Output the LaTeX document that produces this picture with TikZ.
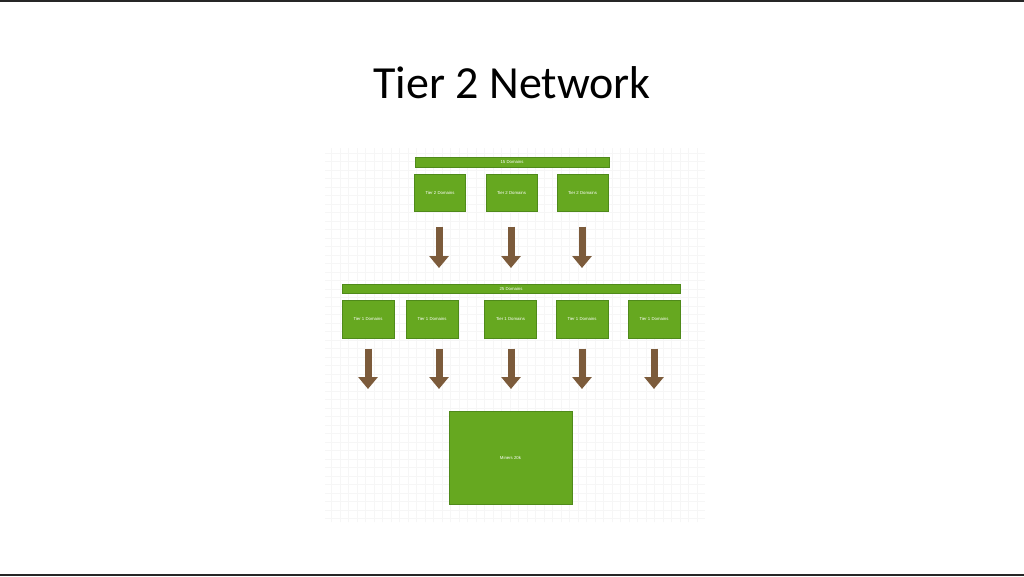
\documentclass[tikz,border=0pt]{standalone}
\usepackage{fontspec}
\setmainfont{Carlito}
\newfontfamily\boxfont{Liberation Sans}
\usetikzlibrary{arrows.meta}
\definecolor{boxgreen}{HTML}{66A820}
\definecolor{boxedge}{HTML}{4F8A1A}
\definecolor{arrowbrown}{HTML}{7C5B3B}
\definecolor{gridgray}{HTML}{F6F6F6}
\tikzset{
  gbox/.style={draw=boxedge, line width=1pt, fill=boxgreen, inner sep=0pt, text=white,
    font=\boxfont\fontsize{4.3}{5}\selectfont},
  downarrow/.style={draw=arrowbrown, line width=7pt,
    -{Triangle[width=19pt,length=12pt]}},
}
\begin{document}
\begin{tikzpicture}[x=1pt,y=-1pt]
\useasboundingbox (0,0) rectangle (1024,576);
\fill[white] (0,0) rectangle (1024,576);
\fill[black!85] (0,0) rectangle (1024,2);
\fill[black!85] (0,573.5) rectangle (1024,576);
% faint grid background
\draw[gridgray, line width=0.5pt, step=8.5pt] (325,148) grid (705,522);
% title
\node[font=\fontsize{46}{54}\selectfont] (title) at (512,83) {Tier 2 Network};
% top bar
\node[gbox, minimum width=194pt, minimum height=10pt] (bar15) at (512,162) {15 Domains};
% tier 2 boxes
\node[gbox, minimum width=51pt, minimum height=37pt] (t2a) at (440,192.5) {Tier 2 Domains};
\node[gbox, minimum width=51pt, minimum height=37pt] (t2b) at (511.5,192.5) {Tier 2 Domains};
\node[gbox, minimum width=51pt, minimum height=37pt] (t2c) at (582.5,192.5) {Tier 2 Domains};
% 25 domains bar
\node[gbox, minimum width=338pt, minimum height=9pt] (bar25) at (511,288.5) {25 Domains};
% tier 1 boxes
\node[gbox, minimum width=52pt, minimum height=38pt] (t1a) at (368,319) {Tier 1 Domains};
\node[gbox, minimum width=52pt, minimum height=38pt] (t1b) at (432,319) {Tier 1 Domains};
\node[gbox, minimum width=52pt, minimum height=38pt] (t1c) at (510.5,319) {Tier 1 Domains};
\node[gbox, minimum width=52pt, minimum height=38pt] (t1d) at (582,319) {Tier 1 Domains};
\node[gbox, minimum width=52pt, minimum height=38pt] (t1e) at (654,319) {Tier 1 Domains};
% bottom box
\node[gbox, minimum width=123pt, minimum height=93pt] (miners) at (510.5,457.5) {Miners 20k};
% arrows tier 2 -> 25 domains
\coordinate (a1) at (439,268);
\coordinate (a2) at (511,268);
\coordinate (a3) at (582,268);
\draw[downarrow] (t2a.south -| a1) ++(0,15) -- (a1);
\draw[downarrow] (t2b.south -| a2) ++(0,15) -- (a2);
\draw[downarrow] (t2c.south -| a3) ++(0,15) -- (a3);
% arrows tier 1 -> bottom
\coordinate (b1) at (368,389);
\coordinate (b2) at (439,389);
\coordinate (b3) at (511,389);
\coordinate (b4) at (582,389);
\coordinate (b5) at (654,389);
\draw[downarrow] (t1a.south -| b1) ++(0,10) -- (b1);
\draw[downarrow] (t1b.south -| b2) ++(0,10) -- (b2);
\draw[downarrow] (t1c.south -| b3) ++(0,10) -- (b3);
\draw[downarrow] (t1d.south -| b4) ++(0,10) -- (b4);
\draw[downarrow] (t1e.south -| b5) ++(0,10) -- (b5);
\end{tikzpicture}
\end{document}
